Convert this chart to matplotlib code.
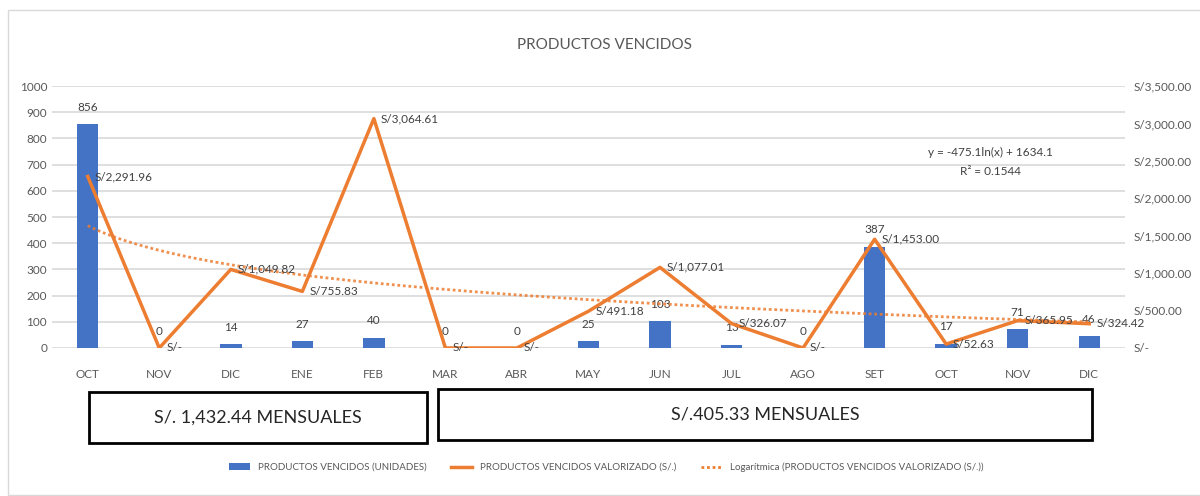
import numpy as np
import matplotlib
matplotlib.use("Agg")
import matplotlib.pyplot as plt
from matplotlib.patches import Rectangle, Patch
from matplotlib.lines import Line2D

plt.rcParams['font.family'] = ['Lato', 'DejaVu Sans']

# data
meses = ["OCT", "NOV", "DIC", "ENE", "FEB", "MAR", "ABR", "MAY", "JUN",
         "JUL", "AGO", "SET", "OCT", "NOV", "DIC"]
unidades = [856, 0, 14, 27, 40, 0, 0, 25, 103, 13, 0, 387, 17, 71, 46]
valorizado = [2291.96, 0, 1049.82, 755.83, 3064.61, 0, 0, 491.18, 1077.01,
              326.07, 0, 1453.00, 52.63, 365.95, 324.42]
left_ticks = [0, 100, 200, 300, 400, 500, 600, 700, 800, 900, 1000]
right_ticks = [0, 500, 1000, 1500, 2000, 2500, 3000, 3500]
promedios = ["S/. 1,432.44 MENSUALES", "S/.405.33 MENSUALES"]
ecuacion = ["y = -475.1ln(x) + 1634.1", "R² = 0.1544"]

BLUE = "#4472C4"
ORANGE = "#ED7D31"
GRAY = "#595959"


def soles(v):
    if v == 0:
        return "S/-"
    return "S/{:,.2f}".format(v)


fig = plt.figure(figsize=(12, 4.96), dpi=100)
ax = fig.add_axes([0.0433, 0.2984, 0.8942, 0.5282])
ax2 = ax.twinx()

x = np.arange(len(meses))

# bars (left axis)
ax.bar(x, unidades, width=0.3, color=BLUE, zorder=2)
for xi, v in zip(x, unidades):
    ax.annotate(str(v), (xi, v), xytext=(0, 8), textcoords="offset points",
                ha="center", va="bottom", fontsize=8.5, color="#404040")
ax.set_ylim(0, 1000)
ax.set_xlim(-0.5, len(meses) - 0.5)
ax.set_yticks(left_ticks)
ax.set_xticks(x)
ax.set_xticklabels(meses)
ax.grid(axis="y", color="#D9D9D9", linewidth=1.2, zorder=0)
ax.set_axisbelow(True)
ax.tick_params(length=0, labelsize=8.5, labelcolor=GRAY)
ax.tick_params(axis="x", pad=15)
for s in ax.spines.values():
    s.set_visible(False)

# line + log trend (right axis)
ax2.plot(x, valorizado, color=ORANGE, linewidth=2.5, zorder=3)
for xi, v in zip(x, valorizado):
    ax2.annotate(soles(v), (xi, v), xytext=(5, 0), textcoords="offset points",
                 ha="left", va="center", fontsize=8.5, color="#404040")

xn = x + 1
a, b = np.polyfit(np.log(xn), valorizado, 1)
xs = np.linspace(1, len(meses), 400)
ax2.plot(xs - 1, a * np.log(xs) + b, color=ORANGE, linewidth=2,
         linestyle=(0, (1, 1)), alpha=0.85, zorder=2)
ax2.text(0.875, 0.745, ecuacion[0], transform=ax2.transAxes,
         ha="center", va="center", fontsize=8.5, color="#404040")
ax2.text(0.875, 0.672, ecuacion[1], transform=ax2.transAxes,
         ha="center", va="center", fontsize=8.5, color="#404040")

ax2.set_ylim(0, 3500)
ax2.set_yticks(right_ticks)
ax2.set_yticklabels([soles(t) for t in right_ticks])
ax2.tick_params(length=0, labelsize=8.5, labelcolor=GRAY, pad=6)
for s in ax2.spines.values():
    s.set_visible(False)

fig.text(0.504, 0.909, "PRODUCTOS VENCIDOS", ha="center", va="center",
         fontsize=11, color=GRAY)

# boxes with monthly averages
boxes = [(89, 392, 427, 443), (438, 389, 1092, 440)]
for (x0, y0, x1, y1), txt in zip(boxes, promedios):
    fig.patches.append(Rectangle((x0 / 1200, 1 - y1 / 496), (x1 - x0) / 1200,
                                 (y1 - y0) / 496, transform=fig.transFigure,
                                 fill=False, edgecolor="black", linewidth=2))
    fig.text((x0 + x1) / 2400, 1 - (y0 + y1) / 992, txt, ha="center",
             va="center", fontsize=13, color="#262626")

# outer chart frame
fig.patches.append(Rectangle((8 / 1200, 0.002), 1.2, 1 - 10 / 496 - 0.002,
                             transform=fig.transFigure, fill=False,
                             edgecolor="#D9D9D9", linewidth=1))

handles = [Patch(facecolor=BLUE),
           Line2D([], [], color=ORANGE, linewidth=2.5),
           Line2D([], [], color=ORANGE, linewidth=2, linestyle=(0, (1, 1)))]
labels = ["PRODUCTOS VENCIDOS (UNIDADES)",
          "PRODUCTOS VENCIDOS VALORIZADO (S/.)",
          "Logarítmica (PRODUCTOS VENCIDOS VALORIZADO (S/.))"]
fig.legend(handles, labels, loc="center", bbox_to_anchor=(0.505, 0.058),
           ncol=3, frameon=False, fontsize=7, labelcolor=GRAY,
           handlelength=2.2, columnspacing=2.5)

fig.savefig("out.png", dpi=100)
